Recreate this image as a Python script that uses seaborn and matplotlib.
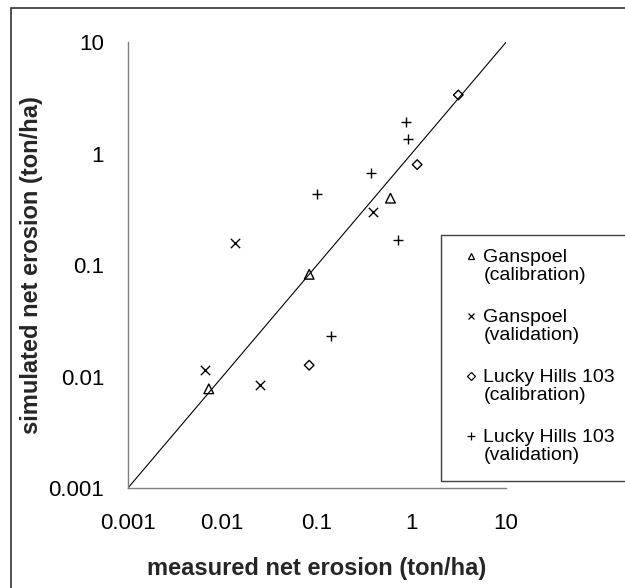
import matplotlib
matplotlib.use("Agg")
import matplotlib.pyplot as plt
from matplotlib.lines import Line2D
from matplotlib.patches import Rectangle
from matplotlib.ticker import FixedLocator, FixedFormatter
import seaborn as sns

# measured vs simulated net erosion (ton/ha)
gan_cal_measured = [0.0072, 0.083, 0.60]
gan_cal_simulated = [0.0078, 0.083, 0.40]

gan_val_measured = [0.0065, 0.025, 0.0135, 0.39]
gan_val_simulated = [0.0115, 0.0084, 0.16, 0.30]

lh_cal_measured = [0.083, 1.15, 3.13]
lh_cal_simulated = [0.0127, 0.80, 3.37]

lh_val_measured = [0.14, 0.10, 0.37, 0.73, 0.87, 0.93]
lh_val_simulated = [0.023, 0.44, 0.67, 0.17, 1.93, 1.37]

series_labels = [
    "Ganspoel\n(calibration)",
    "Ganspoel\n(validation)",
    "Lucky Hills 103\n(calibration)",
    "Lucky Hills 103\n(validation)",
]

# 1:1 reference line
line_x = [0.001, 10]
line_y = [0.001, 10]

tick_values = [0.001, 0.01, 0.1, 1, 10]
tick_labels = ["0.001", "0.01", "0.1", "1", "10"]

sns.set_style("white")
plt.rcParams["font.family"] = ["Liberation Sans", "DejaVu Sans"]

W, H = 625, 588
fig = plt.figure(figsize=(W / 100, H / 100), dpi=100)
ax = fig.add_axes([127.7 / W, 1 - 488.3 / H, (506 - 127.7) / W, (488.3 - 42.3) / H])

sns.lineplot(x=line_x, y=line_y, ax=ax, color="black", linewidth=0.8)

marker_styles = [
    dict(marker="^", s=48, facecolor="none", edgecolor="black", linewidth=1.0),
    dict(marker="x", s=45, color="black", linewidth=1.0),
    dict(marker="D", s=24, facecolor="none", edgecolor="black", linewidth=1.0),
    dict(marker="+", s=58, color="black", linewidth=1.0),
]
series_xy = [
    (gan_cal_measured, gan_cal_simulated),
    (gan_val_measured, gan_val_simulated),
    (lh_cal_measured, lh_cal_simulated),
    (lh_val_measured, lh_val_simulated),
]
for (xs, ys), style in zip(series_xy, marker_styles):
    sns.scatterplot(x=xs, y=ys, ax=ax, **style)

ax.set_xscale("log")
ax.set_yscale("log")
ax.set_xlim(0.001, 10)
ax.set_ylim(0.001, 10)

for axis in (ax.xaxis, ax.yaxis):
    axis.set_major_locator(FixedLocator(tick_values))
    axis.set_major_formatter(FixedFormatter(tick_labels))
    axis.set_minor_locator(FixedLocator([]))

spine_color = "#808080"
for side in ("top", "right"):
    ax.spines[side].set_visible(False)
for side in ("left", "bottom"):
    ax.spines[side].set_color(spine_color)
    ax.spines[side].set_linewidth(1.0)

ax.tick_params(axis="both", which="major", direction="out", length=6, width=0.9,
               color=spine_color, labelsize=16, labelcolor="black")
ax.tick_params(axis="y", pad=11)
ax.tick_params(axis="x", pad=12)

ax.set_xlabel("measured net erosion (ton/ha)", fontsize=17, fontweight="bold", labelpad=16)
ax.set_ylabel("simulated net erosion (ton/ha)", fontsize=17, fontweight="bold", labelpad=4)

# legend box: marker aligned with the first line of each two-line label
def fx(px):
    return px / W


def fy(py):
    return 1 - py / H


fig.add_artist(Rectangle((fx(440.7), fy(480.7)), 0.5, (480.7 - 234.7) / H,
                         transform=fig.transFigure, fill=False,
                         edgecolor="#404040", linewidth=1.0))
legend_markers = [
    dict(marker="^", markersize=5, markerfacecolor="none"),
    dict(marker="x", markersize=5),
    dict(marker="D", markersize=3.6, markerfacecolor="none"),
    dict(marker="+", markersize=6),
]
for i, (label, mk) in enumerate(zip(series_labels, legend_markers)):
    base = 261.7 + 60 * i
    fig.add_artist(Line2D([fx(470.5)], [fy(base - 6)], transform=fig.transFigure,
                          linestyle="none", color="black", markeredgewidth=0.9, **mk))
    for j, line in enumerate(label.split("\n")):
        fig.text(fx(483.3), fy(base + 18.7 * j), line, fontsize=14,
                 ha="left", va="baseline", color="black")

# outer frame around the figure
fig.add_artist(Rectangle((11 / W, -0.1), 1.2, (H - 8) / H + 0.1, transform=fig.transFigure,
                         fill=False, edgecolor="#333333", linewidth=1.2))

fig.savefig("out.png", dpi=100)
